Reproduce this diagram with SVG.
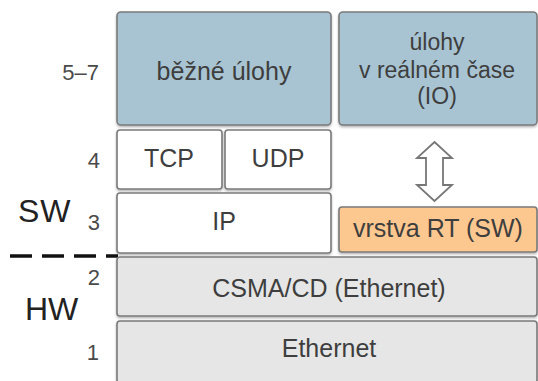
<svg xmlns="http://www.w3.org/2000/svg" width="538" height="381" viewBox="0 0 538 381">
  <defs>
    <filter id="shadow" x="-5%" y="-5%" width="110%" height="115%">
      <feDropShadow dx="0" dy="1.5" stdDeviation="1.2" flood-color="#000" flood-opacity="0.3"/>
    </filter>
  </defs>
  <style>
    .box { stroke: #7a7a7a; stroke-width: 1.6; filter: url(#shadow); }
    .app { fill: #a8c4d3; }
    .plain { fill: #ffffff; }
    .rt { fill: #fdc88f; }
    .hw { fill: #e6e6e6; }
    .lbl { font-family: "Liberation Sans", Arial, sans-serif; font-size: 25px; fill: #3e3e3e; text-anchor: middle; }
    .lbl2 { font-family: "Liberation Sans", Arial, sans-serif; font-size: 23px; fill: #3e3e3e; text-anchor: middle; }
    .num { font-family: "Liberation Sans", Arial, sans-serif; font-size: 22px; fill: #4a4a4a; text-anchor: end; }
    .big { font-family: "Liberation Sans", Arial, sans-serif; font-size: 32px; fill: #222; }
  </style>
  <rect width="538" height="381" fill="#ffffff"/>

  <!-- layer numbers -->
  <g id="layer-numbers">
    <text class="num" x="99" y="80">5–7</text>
    <text class="num" x="100" y="168">4</text>
    <text class="num" x="100" y="230">3</text>
    <text class="num" x="100" y="285">2</text>
    <text class="num" x="99" y="360">1</text>
  </g>

  <!-- SW / HW division -->
  <g id="sw-hw">
    <text class="big" x="18" y="222" letter-spacing="1">SW</text>
    <text class="big" x="25" y="320">HW</text>
    <line x1="10" y1="256" x2="118" y2="256" stroke="#111" stroke-width="3.5" stroke-dasharray="22 10"/>
  </g>

  <g id="bezne-ulohy">
    <rect class="box app" x="117" y="12" width="214" height="113" rx="4"/>
    <text class="lbl" x="224" y="80">běžné úlohy</text>
  </g>

  <g id="ulohy-rt">
    <rect class="box app" x="339" y="12" width="198" height="113" rx="4"/>
    <text class="lbl2" x="437" y="50">úlohy</text>
    <text class="lbl2" x="437" y="78">v reálném čase</text>
    <text class="lbl2" x="437" y="104">(IO)</text>
  </g>

  <g id="tcp">
    <rect class="box plain" x="117" y="130" width="105" height="59" rx="3"/>
    <text class="lbl" x="169" y="167">TCP</text>
  </g>

  <g id="udp">
    <rect class="box plain" x="225" y="130" width="106" height="59" rx="3"/>
    <text class="lbl" x="278" y="167">UDP</text>
  </g>

  <g id="ip">
    <rect class="box plain" x="117" y="193" width="214" height="60" rx="3"/>
    <text class="lbl" x="224" y="230">IP</text>
  </g>

  <g id="vrstva-rt">
    <rect class="box rt" x="339" y="207" width="198" height="45" rx="3"/>
    <text class="lbl" x="438" y="237">vrstva RT (SW)</text>
  </g>

  <g id="csma-cd">
    <rect class="box hw" x="117" y="257" width="420" height="59" rx="3"/>
    <text class="lbl" x="329" y="297">CSMA/CD (Ethernet)</text>
  </g>

  <g id="ethernet">
    <rect class="box hw" x="117" y="321" width="420" height="62" rx="3"/>
    <text class="lbl" x="329" y="357">Ethernet</text>
  </g>

  <!-- hollow double-headed arrow between RT tasks and RT layer -->
  <g id="connectors">
    <path d="M434.5 142 L452 158 L443 158 L443 185 L452 185 L434.5 201 L417 185 L426 185 L426 158 L417 158 Z"
          fill="#ffffff" stroke="#777" stroke-width="1.8" stroke-linejoin="miter"/>
  </g>
</svg>
